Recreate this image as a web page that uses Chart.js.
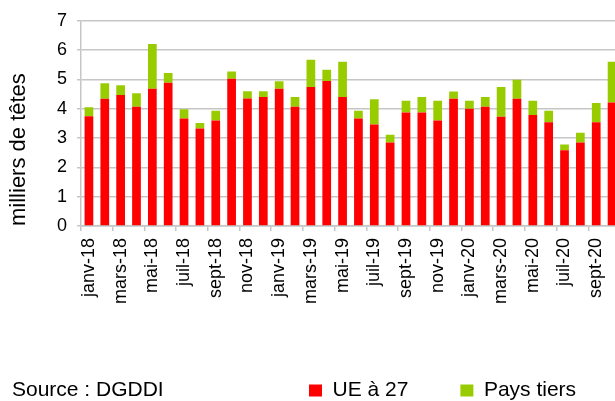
<!DOCTYPE html>
<html>
<head>
<meta charset="utf-8">
<script src="https://cdn.jsdelivr.net/npm/chart.js@4"></script>
<style>
html,body{margin:0;padding:0;overflow:hidden;background:#ffffff;}
#wrap{position:absolute;left:0;top:0;width:621px;height:401px;}
</style>
</head>
<body>
<div id="wrap"><canvas id="c" width="621" height="401"></canvas></div>
<script>
const months = [
  'janv-18','févr-18','mars-18','avr-18','mai-18','juin-18','juil-18','août-18','sept-18','oct-18','nov-18','déc-18',
  'janv-19','févr-19','mars-19','avr-19','mai-19','juin-19','juil-19','août-19','sept-19','oct-19','nov-19','déc-19',
  'janv-20','févr-20','mars-20','avr-20','mai-20','juin-20','juil-20','août-20','sept-20','oct-20'
];
const ueA27 = [
  3.74,4.34,4.47,4.07,4.68,4.89,3.67,3.33,3.60,5.02,4.35,4.40,
  4.68,4.07,4.74,4.95,4.40,3.67,3.46,2.85,3.87,3.87,3.60,4.34,
  4.00,4.07,3.73,4.34,3.79,3.54,2.58,2.85,3.54,4.21
];
const paysTiers = [
  0.31,0.53,0.33,0.46,1.53,0.33,0.31,0.18,0.33,0.25,0.25,0.20,
  0.26,0.33,0.93,0.38,1.20,0.26,0.86,0.26,0.40,0.53,0.67,0.25,
  0.27,0.33,1.01,0.65,0.48,0.39,0.20,0.33,0.66,1.39
];
const yTickValues = [0,1,2,3,4,5,6,7];
const seriesNames = ['UE à 27','Pays tiers'];
const yTitle = 'milliers de têtes';
const sourceText = 'Source : DGDDI';

const FONT = "'Liberation Sans', Arial, sans-serif";
const GRID = '#c6c6c6';
const RED = '#ff0000';
const GREEN = '#99cc00';
const AREA_BOTTOM = 226;

const placeBottom = {
  id: 'placeBottom',
  afterLayout(chart) {
    const lg = chart.legend;
    if (lg) {
      const h = lg.bottom - lg.top;
      lg.left = 257; lg.right = 800;
      lg.top = 328; lg.bottom = lg.top + h;
    }
    const sub = chart.boxes.find(b => b.options && b.options.text === sourceText);
    if (sub) {
      const sh = sub.bottom - sub.top;
      sub.left = 12; sub.right = 300;
      sub.top = 378; sub.bottom = sub.top + sh;
    }
    const xs = chart.scales.x;
    if (xs) { xs.bottom = chart.height; }
  }
};

new Chart(document.getElementById('c'), {
  type: 'bar',
  data: {
    labels: months,
    datasets: [
      { label: seriesNames[0], data: ueA27, backgroundColor: RED, borderWidth: 0,
        barPercentage: 0.55, categoryPercentage: 1.0 },
      { label: seriesNames[1], data: paysTiers, backgroundColor: GREEN, borderWidth: 0,
        barPercentage: 0.55, categoryPercentage: 1.0 }
    ]
  },
  options: {
    responsive: false,
    animation: false,
    devicePixelRatio: 1,
    layout: { padding: { top: 18, right: 1, left: 0, bottom: 0 } },
    plugins: {
      tooltip: { enabled: false },
      title: { display: false },
      subtitle: {
        display: true, text: sourceText, position: 'bottom', align: 'start',
        color: '#000000', font: { family: FONT, size: 21, weight: 'normal' },
        padding: 0
      },
      legend: {
        display: true, position: 'bottom', align: 'start',
        labels: {
          color: '#000000', font: { family: FONT, size: 21 },
          boxWidth: 13, boxHeight: 12, padding: 52
        }
      }
    },
    scales: {
      x: {
        stacked: true,
        offset: true,
        grid: {
          drawOnChartArea: false, drawTicks: true, tickLength: 5, lineWidth: 1.5,
          color: c => (c.index % 2 === 0 ? GRID : 'rgba(0,0,0,0)')
        },
        border: { display: true, color: GRID, width: 1.5 },
        ticks: {
          autoSkip: false, minRotation: 90, maxRotation: 90, padding: 7,
          color: '#000000', font: { family: FONT, size: 18 },
          callback: function (value, index) { return index % 2 === 0 ? this.getLabelForValue(value) : ''; }
        },
        afterFit: function (scale) {
          const ch = scale.chart;
          let others = 0;
          ch.boxes.forEach(b => { if (b !== scale && b.position === 'bottom' && b.fullSize) others += (b.height || 0); });
          scale.height = ch.height - AREA_BOTTOM - others;
          scale.paddingLeft = 0; scale.paddingRight = 0;
        }
      },
      y: {
        stacked: true,
        min: 0, max: 7,
        afterBuildTicks: function (scale) { scale.ticks = yTickValues.map(v => ({ value: v })); },
        grid: { color: GRID, lineWidth: 1.5, tickLength: 4, drawTicks: true },
        border: { display: true, color: GRID, width: 1.5 },
        ticks: { color: '#000000', font: { family: FONT, size: 18 }, padding: 10 },
        title: {
          display: true, text: yTitle, align: 'start', color: '#000000',
          font: { family: FONT, size: 22 }, padding: { top: 6, bottom: 0 }
        },
        afterFit: function (scale) { scale.width = 81; }
      }
    }
  },
  plugins: [placeBottom]
});
</script>
</body>
</html>
